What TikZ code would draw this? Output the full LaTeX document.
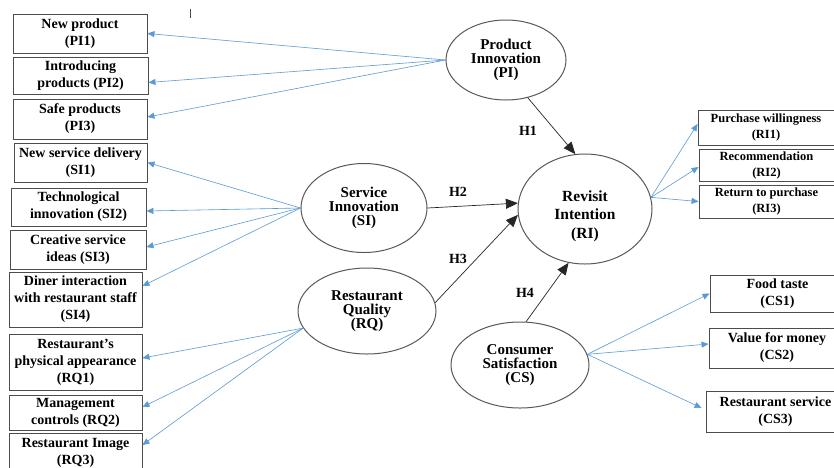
\documentclass[tikz,border=0pt]{standalone}
\usepackage{fontspec}
\setmainfont{Liberation Serif}
\usetikzlibrary{arrows.meta,shapes.geometric}
\definecolor{blueline}{HTML}{5B9BD5}

\begin{document}
\begin{tikzpicture}[x=1pt, y=-1pt,
    item/.style={draw=black!70, line width=0.9pt, align=center, inner sep=0pt, font=\fontsize{14}{17}\selectfont\bfseries},
    itemsm/.style={item, font=\fontsize{12.5}{16}\selectfont\bfseries},
    latent/.style={ellipse, draw=black!65, line width=1pt, align=center, inner sep=0pt, font=\fontsize{15}{14}\selectfont\bfseries},
    load/.style={-{Triangle[length=7pt,width=6pt]}, blueline, line width=0.6pt},
    hyp/.style={-{Triangle[length=12pt,width=10pt]}, black!85, line width=0.7pt},
    hlab/.style={font=\fontsize{14}{14}\selectfont\bfseries}]
    \useasboundingbox (0,0) rectangle (834,467);
    \clip (0,0) rectangle (834,467);
    \fill[white] (0,0) rectangle (834,467);
    \draw[black!70, line width=0.6pt] (190,9) -- (190,18);

    % latent constructs
    \node[latent, minimum width=120, minimum height=80] (pi) at (506,60) {Product\\Innovation\\(PI)};
    \node[latent, minimum width=126, minimum height=89] (si) at (364,208) {Service\\Innovation\\(SI)};
    \node[latent, minimum width=138, minimum height=86] (rq) at (367,311) {Restaurant\\Quality\\(RQ)};
    \node[latent, minimum width=134, minimum height=110] (ri) at (585,209) {};
    \node[align=center, font=\fontsize{15.5}{18.5}\selectfont\bfseries] (ritext) at ([yshift=-7pt]ri.center) {Revisit\\Intention\\(RI)};
    \node[latent, minimum width=138, minimum height=86] (cs) at (520,365) {Consumer\\Satisfaction\\(CS)};

    % indicators
    \node[item, minimum width=134, minimum height=39] (pi1) at (80,33.5) {New product\\(PI1)};
    \node[item, minimum width=135, minimum height=37] (pi2) at (80.5,75.5) {Introducing\\products (PI2)};
    \node[item, minimum width=134, minimum height=40] (pi3) at (80,119) {Safe products\\(PI3)};
    \node[item, minimum width=133, minimum height=39] (si1) at (80.5,162.5) {New service delivery\\(SI1)};
    \node[item, minimum width=135, minimum height=38] (si2) at (78.5,207) {Technological\\innovation (SI2)};
    \node[item, minimum width=136, minimum height=39] (si3) at (78,249.5) {Creative service\\ideas (SI3)};
    \node[item, minimum width=133, minimum height=55] (si4) at (75.5,299.5) {Diner interaction\\with restaurant staff\\(SI4)};
    \node[item, minimum width=133, minimum height=56] (rq1) at (75.5,362) {Restaurant's\\physical appearance\\(RQ1)};
    \node[item, minimum width=133, minimum height=35] (rq2) at (75.5,412.5) {Management\\controls (RQ2)};
    \node[item, minimum width=133, minimum height=40] (rq3) at (75.5,453) {Restaurant Image\\(RQ3)};
    \node[itemsm, minimum width=136, minimum height=35] (ri1) at (766,127.5) {Purchase willingness\\(RI1)};
    \node[itemsm, minimum width=135, minimum height=32] (ri2) at (766.5,165) {Recommendation\\(RI2)};
    \node[itemsm, minimum width=135, minimum height=33] (ri3) at (766.5,201.5) {Return to purchase\\(RI3)};
    \node[item, minimum width=135, minimum height=37] (cs1) at (777.5,293.5) {Food taste\\(CS1)};
    \node[item, minimum width=136, minimum height=40] (cs2) at (777,348) {Value for money\\(CS2)};
    \node[item, minimum width=139, minimum height=41] (cs3) at (775.5,411.5) {Restaurant service\\(CS3)};

    % loadings
    \draw[load] (pi.west) -- (pi1.east);
    \draw[load] (pi.west) -- ([yshift=-7pt]pi2.east);
    \draw[load] (pi.west) -- ([yshift=2pt]pi3.east);
    \draw[load] (si.west) -- (si1.east);
    \draw[load] (si.west) -- ([yshift=-4pt]si2.east);
    \draw[load] (si.west) -- ([yshift=2.5pt]si3.east);
    \draw[load] (si.west) -- ([yshift=13.5pt]si4.east);
    \draw[load] (rq.195) -- ([yshift=4pt]rq1.east);
    \draw[load] (rq.195) -- ([yshift=5.5pt]rq2.east);
    \draw[load] (rq.195) -- ([yshift=8pt]rq3.east);
    \draw[load] (ri.10) -- ([yshift=3.5pt]ri1.west);
    \draw[load] (ri.10) -- ([yshift=-2pt]ri2.west);
    \draw[load] (ri.10) -- (ri3.west);
    \draw[load] (cs.9) -- (cs1.west);
    \draw[load] (cs.9) -- ([yshift=4pt]cs2.west);
    \draw[load] (cs.9) -- ([xshift=-4pt,yshift=3.5pt]cs3.west);

    % hypotheses
    \draw[hyp] (pi.-60) -- (ri.100);
    \draw[hyp] (si.east) -- (ri.175);
    \draw[hyp] (rq.7) -- (ri.185);
    \draw[hyp] (cs.82) -- (ri.253);
    \node[hlab] (h1) at (528,131) {H1};
    \node[hlab] (h2) at (458,192) {H2};
    \node[hlab] (h3) at (458,259) {H3};
    \node[hlab] (h4) at (525,293) {H4};
\end{tikzpicture}
\end{document}
